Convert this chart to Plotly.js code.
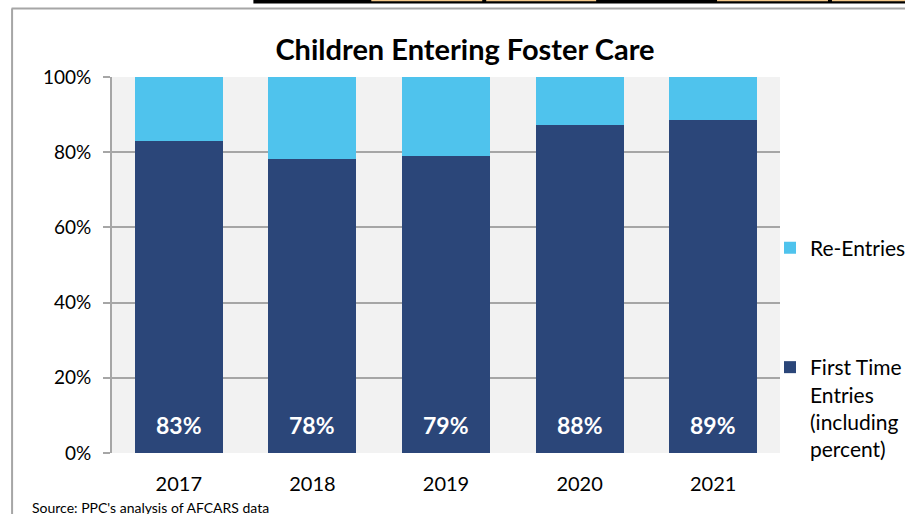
<!DOCTYPE html>
<html>
<head>
<meta charset="utf-8">
<script src="https://cdn.plot.ly/plotly-3.0.1.min.js"></script>
<style>html,body{margin:0;padding:0;background:#fff;}#chart{width:905px;height:514px;}</style>
</head>
<body>
<div id="chart"></div>
<script>
var years = ['2017', '2018', '2019', '2020', '2021'];
var firstTime = [83.0, 78.2, 79.0, 87.3, 88.6];
var reEntries = [17.0, 21.8, 21.0, 12.7, 11.4];
var barLabels = ['83%', '78%', '79%', '88%', '89%'];
var yTicks = [0, 20, 40, 60, 80, 100];
var yTickLabels = ['0%', '20%', '40%', '60%', '80%', '100%'];
var chartTitle = 'Children Entering Foster Care';
var sourceNote = "Source: PPC's analysis of AFCARS data";

var FONT = 'Lato, Carlito, Calibri, sans-serif';
var W = 905, H = 514;
var ML = 111.5, MR = 125, MT = 77, MB = 61;
var PW = W - ML - MR, PH = H - MT - MB;
// convert figure pixel positions into plot-area "paper" fractions
function px(x) { return (x - ML) / PW; }
function py(y) { return (H - MB - y) / PH; }

var traces = [
  {
    type: 'bar', name: 'First Time<br>Entries<br>(including<br>percent)',
    x: years, y: firstTime,
    marker: { color: '#2b4679' },
    legend: 'legend2', hoverinfo: 'skip'
  },
  {
    type: 'bar', name: 'Re-Entries',
    x: years, y: reEntries,
    marker: { color: '#4fc3ed' },
    legend: 'legend', hoverinfo: 'skip'
  }
];

var annotations = years.map(function (yr, i) {
  return {
    x: i, y: 7.4, xref: 'x', yref: 'y',
    text: '<b>' + barLabels[i] + '</b>', showarrow: false,
    xanchor: 'center', yanchor: 'middle',
    font: { family: FONT, size: 23, color: '#ffffff' }
  };
});
annotations.push({
  xref: 'paper', yref: 'paper', x: px(29), y: py(507),
  xanchor: 'left', yanchor: 'middle', showarrow: false,
  text: sourceNote, font: { family: FONT, size: 14, color: '#000' }
});

var shapes = [
  // outer grey frame
  { type: 'line', xref: 'paper', yref: 'paper', x0: px(11), x1: px(910), y0: py(8.5), y1: py(8.5), line: { color: '#a6a6a6', width: 2 } },
  { type: 'line', xref: 'paper', yref: 'paper', x0: px(11.5), x1: px(11.5), y0: py(8.5), y1: py(520), line: { color: '#a6a6a6', width: 2 } },
  // table strip on top
  { type: 'rect', xref: 'paper', yref: 'paper', x0: px(253), x1: px(910), y0: py(3.5), y1: py(-2), fillcolor: '#000', line: { width: 0 } },
  { type: 'rect', xref: 'paper', yref: 'paper', x0: px(371), x1: px(482), y0: py(1.3), y1: py(-2), fillcolor: '#f5c98a', line: { width: 0 } },
  { type: 'rect', xref: 'paper', yref: 'paper', x0: px(486), x1: px(596), y0: py(1.3), y1: py(-2), fillcolor: '#f5c98a', line: { width: 0 } },
  { type: 'rect', xref: 'paper', yref: 'paper', x0: px(717), x1: px(828), y0: py(1.3), y1: py(-2), fillcolor: '#f5c98a', line: { width: 0 } },
  { type: 'rect', xref: 'paper', yref: 'paper', x0: px(832), x1: px(910), y0: py(1.3), y1: py(-2), fillcolor: '#f5c98a', line: { width: 0 } }
];

var layout = {
  width: W, height: H,
  margin: { l: ML, r: MR, t: MT, b: MB, pad: 0, autoexpand: false },
  paper_bgcolor: '#ffffff',
  plot_bgcolor: '#f2f2f2',
  barmode: 'stack',
  bargap: 0.34,
  font: { family: FONT, color: '#000' },
  title: {
    text: '<b>' + chartTitle + '</b>',
    font: { family: FONT, size: 29, color: '#000' },
    x: 465 / W, xanchor: 'center', xref: 'container',
    y: 1 - 50 / H, yanchor: 'middle', yref: 'container'
  },
  xaxis: {
    type: 'category', range: [-0.5, 4.5],
    showgrid: false, zeroline: false,
    showline: false,
    ticks: 'outside', ticklen: 13, tickcolor: 'rgba(0,0,0,0)',
    tickfont: { family: FONT, size: 20, color: '#000' }
  },
  yaxis: {
    range: [0, 100], tickvals: yTicks, ticktext: yTickLabels,
    showgrid: true, gridcolor: '#a6a6a6', gridwidth: 2,
    zeroline: false,
    showline: true, linecolor: '#a6a6a6', linewidth: 2,
    ticks: 'outside', ticklen: 7, tickcolor: '#a6a6a6', tickwidth: 2,
    ticklabelstandoff: 8,
    tickfont: { family: FONT, size: 19, color: '#000' }
  },
  showlegend: true,
  legend: {
    x: px(770), xref: 'paper', xanchor: 'left',
    y: py(248), yref: 'paper', yanchor: 'middle',
    bgcolor: 'rgba(0,0,0,0)', borderwidth: 0,
    font: { family: FONT, size: 21, color: '#000' }
  },
  legend2: {
    x: px(770), xref: 'paper', xanchor: 'left',
    y: py(347), yref: 'paper', yanchor: 'top', valign: 'top',
    bgcolor: 'rgba(0,0,0,0)', borderwidth: 0,
    font: { family: FONT, size: 21, color: '#000' }
  },
  annotations: annotations,
  shapes: shapes
};

Plotly.newPlot('chart', traces, layout, { displayModeBar: false, staticPlot: true });
</script>
</body>
</html>
